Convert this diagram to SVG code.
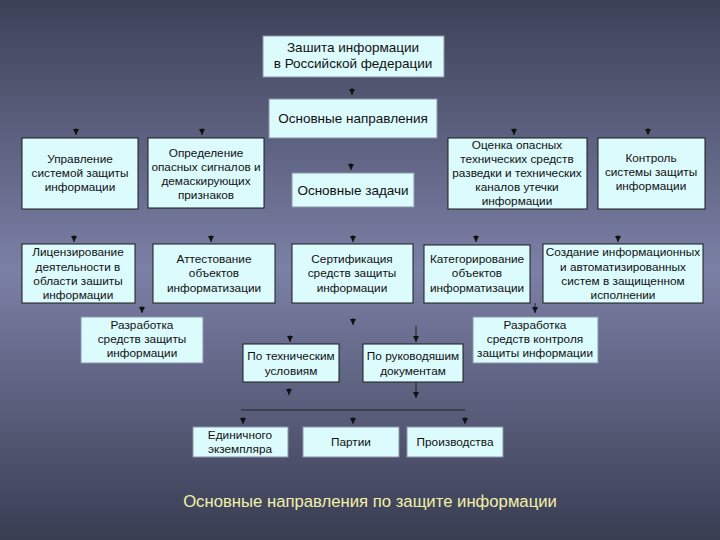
<svg xmlns="http://www.w3.org/2000/svg" width="720" height="540" viewBox="0 0 720 540">
<defs>
<linearGradient id="bg" x1="0" y1="0" x2="0" y2="1">
<stop offset="0" stop-color="#3d4157"/>
<stop offset="0.5" stop-color="#7b80a6"/>
<stop offset="1" stop-color="#393d52"/>
</linearGradient>
<marker id="ah" viewBox="0 0 6 6" refX="6" refY="3" markerWidth="6" markerHeight="6" markerUnits="userSpaceOnUse" orient="auto">
<path d="M0,0 L6,3 L0,6 Z" fill="#111"/>
</marker>
<style>
.b{fill:#dcfbfd;stroke:#1a1a1a;stroke-width:1}
.g{fill:#dcfbfd;stroke:#8e93a8;stroke-width:1}
text{font-family:"Liberation Sans",Arial,sans-serif;font-size:11.8px;fill:#111;text-anchor:middle}
.l{font-size:13.5px}
.t{font-size:16.7px;fill:#f2f0a8}
.c path{fill:none;stroke:#222;stroke-width:1}
.c path.a{marker-end:url(#ah)}
</style>
</defs>
<rect width="720" height="540" fill="url(#bg)"/>

<g class="c" id="connectors">
<path class="a" d="M352,88 V95"/>
<path class="a" d="M76,128 V135"/>
<path class="a" d="M202,128 V135"/>
<path class="a" d="M514,128 V135"/>
<path class="a" d="M648,128 V135"/>
<path class="a" d="M351,163 V170"/>
<path class="a" d="M74,235 V242"/>
<path class="a" d="M211,235 V242"/>
<path class="a" d="M353,235 V242"/>
<path class="a" d="M476,235 V242"/>
<path class="a" d="M618,235 V242"/>
<path class="a" d="M142,306 V313"/>
<path class="a" d="M535,303 V313"/>
<path class="a" d="M353,318 V325"/>
<path class="a" d="M290,335 V342"/>
<path class="a" d="M416,326 V342"/>
<path class="a" d="M289,388 V395"/>
<path class="a" d="M416,382 V398"/>
<path d="M241,410 H465"/>
<path class="a" d="M243,417 V424"/>
<path class="a" d="M353,417 V424"/>
<path class="a" d="M465,417 V424"/>
</g>

<g id="n-root"><rect class="g" x="263" y="36" width="181" height="41"/>
<text class="l" x="353" y="52">Зашита информации</text><text class="l" x="353" y="68">в Российской федерации</text></g>
<g id="n-dir"><rect class="g" x="269" y="99" width="168" height="39"/>
<text class="l" x="353" y="123">Основные направления</text></g>

<g id="n-upr"><rect class="b" x="22" y="138" width="116" height="71"/>
<text x="80" y="163">Управление</text><text x="80" y="177">системой защиты</text><text x="80" y="191">информации</text></g>
<g id="n-opr"><rect class="b" x="148" y="138" width="116" height="70"/>
<text x="206" y="157">Определение</text><text x="206" y="171">опасных сигналов и</text><text x="206" y="185">демаскирующих</text><text x="206" y="199">признаков</text></g>
<g id="n-zad"><rect class="g" x="292" y="173" width="122" height="34"/>
<text class="l" x="353" y="195">Основные задачи</text></g>
<g id="n-ots"><rect class="b" x="448" y="138" width="139" height="71"/>
<text x="517" y="149">Оценка опасных</text><text x="517" y="163">технических средств</text><text x="517" y="177">разведки и технических</text><text x="517" y="191">каналов утечки</text><text x="517" y="205">информации</text></g>
<g id="n-kon"><rect class="b" x="598" y="138" width="107" height="71"/>
<text x="651" y="162">Контроль</text><text x="651" y="176">системы защиты</text><text x="651" y="190">информации</text></g>

<g id="n-lic"><rect class="b" x="22" y="244" width="113" height="59"/>
<text x="78" y="256">Лицензирование</text><text x="78" y="271">деятельности в</text><text x="78" y="285">области зашиты</text><text x="78" y="299">информации</text></g>
<g id="n-att"><rect class="b" x="153" y="244" width="122" height="59"/>
<text x="214" y="263">Аттестование</text><text x="214" y="277">объектов</text><text x="214" y="292">информатизации</text></g>
<g id="n-ser"><rect class="b" x="292" y="244" width="121" height="59"/>
<text x="352" y="263">Сертификация</text><text x="352" y="277">средств защиты</text><text x="352" y="292">информации</text></g>
<g id="n-kat"><rect class="b" x="424" y="245" width="106" height="58"/>
<text x="477" y="263">Категорирование</text><text x="477" y="277">объектов</text><text x="477" y="292">информатизации</text></g>
<g id="n-soz"><rect class="b" x="543" y="244" width="160" height="59"/>
<text x="623" y="256">Создание информационных</text><text x="623" y="271">и автоматизированных</text><text x="623" y="285">систем в защищенном</text><text x="623" y="299">исполнении</text></g>

<g id="n-raz1"><rect class="g" x="81" y="317" width="122" height="46"/>
<text x="142" y="329">Разработка</text><text x="142" y="343">средств защиты</text><text x="142" y="357">информации</text></g>
<g id="n-tu"><rect class="b" x="243" y="344" width="96" height="38"/>
<text x="291" y="360">По техническим</text><text x="291" y="375">условиям</text></g>
<g id="n-rd"><rect class="b" x="363" y="344" width="100" height="38"/>
<text x="413" y="360">По руководяшим</text><text x="413" y="375">документам</text></g>
<g id="n-raz2"><rect class="g" x="473" y="317" width="125" height="46"/>
<text x="535" y="329">Разработка</text><text x="535" y="343">средств контроля</text><text x="535" y="357">защиты информации</text></g>

<g id="n-ed"><rect class="g" x="193" y="427" width="95" height="30"/>
<text x="240" y="439">Единичного</text><text x="240" y="453">экземпляра</text></g>
<g id="n-par"><rect class="g" x="303" y="427" width="96" height="30"/>
<text x="351" y="446">Партии</text></g>
<g id="n-pro"><rect class="g" x="407" y="427" width="96" height="30"/>
<text x="455" y="446">Производства</text></g>

<text class="t" x="370" y="507">Основные направления по защите информации</text>
</svg>
